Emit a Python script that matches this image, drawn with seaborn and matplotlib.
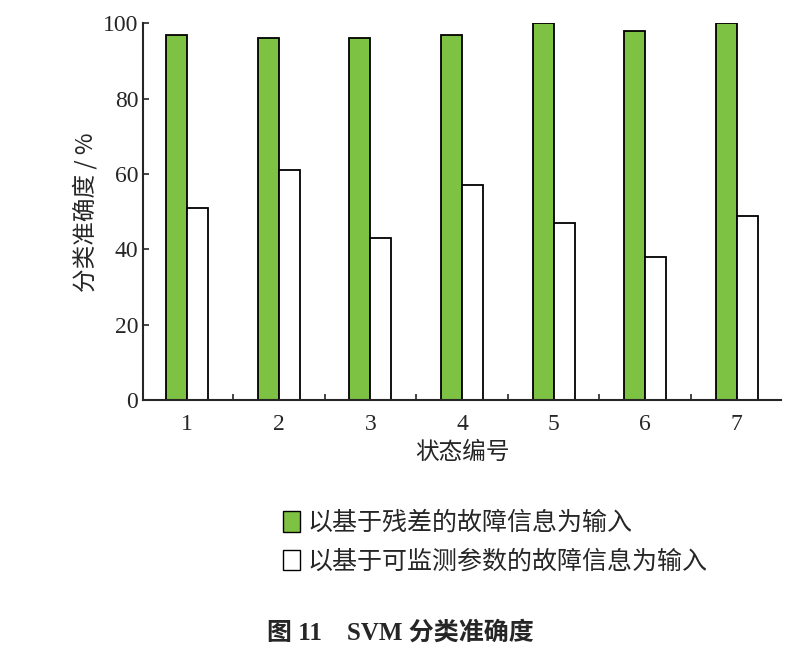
import numpy as np
import pandas as pd
import matplotlib
matplotlib.use('Agg')
import matplotlib.pyplot as plt
import seaborn as sns
from matplotlib.patches import Patch

states = ['1', '2', '3', '4', '5', '6', '7']
residual_acc = [97, 96, 96, 97, 100, 98, 100]
param_acc = [51, 61, 43, 57, 47, 38, 49]
series_names = ['以基于残差的故障信息为输入', '以基于可监测参数的故障信息为输入']

sns.set_style('ticks')
plt.rcParams['font.family'] = ['Liberation Serif', 'Noto Sans CJK SC']
cjk = ['Noto Sans CJK SC', 'DejaVu Sans']

df = pd.DataFrame({
    'state': states * 2,
    'acc': residual_acc + param_acc,
    'series': [series_names[0]] * 7 + [series_names[1]] * 7,
})

fig = plt.figure(figsize=(8, 6.66), dpi=100)
ax = fig.add_axes([0.179, 0.399, 0.797, 0.566])
green = '#7dc242'
sns.barplot(data=df, x='state', y='acc', hue='series', ax=ax, width=0.46,
            palette=[green, 'white'], saturation=1, edgecolor='black',
            linewidth=1.3, legend=False)

ax.set_xlim(-0.48, 6.48)
ax.set_ylim(0, 100)
ax.set_yticks([0, 20, 40, 60, 80, 100])
ax.set_xticks(range(7))
ax.set_xticks(np.arange(0.5, 6, 1), minor=True)
ax.tick_params(axis='x', which='major', length=0, labelsize=17, pad=10)
ax.tick_params(axis='x', which='minor', direction='in', length=4, width=1.2)
ax.tick_params(axis='y', direction='in', length=4, width=1.2, labelsize=17)
sns.despine(ax=ax)
for s in ['left', 'bottom']:
    ax.spines[s].set_linewidth(1.5)
ax.set_xlabel('状态编号', family=cjk, fontsize=17)
ax.set_ylabel('分类准确度 / %', family=cjk, fontsize=17)

handles = [Patch(facecolor=green, edgecolor='black'),
           Patch(facecolor='white', edgecolor='black')]
fig.legend(handles, series_names, loc='upper left', bbox_to_anchor=(0.325, 0.268),
           frameon=False, prop={'family': cjk, 'size': 18}, handlelength=0.7,
           handleheight=0.9, handletextpad=0.3, labelspacing=0.5)

fig.text(0.5, 0.05, '图 11    SVM 分类准确度', ha='center', va='center',
         fontsize=18, fontweight='bold',
         family=['Liberation Serif', 'Noto Sans CJK SC'])

fig.savefig('out.png', dpi=100)
